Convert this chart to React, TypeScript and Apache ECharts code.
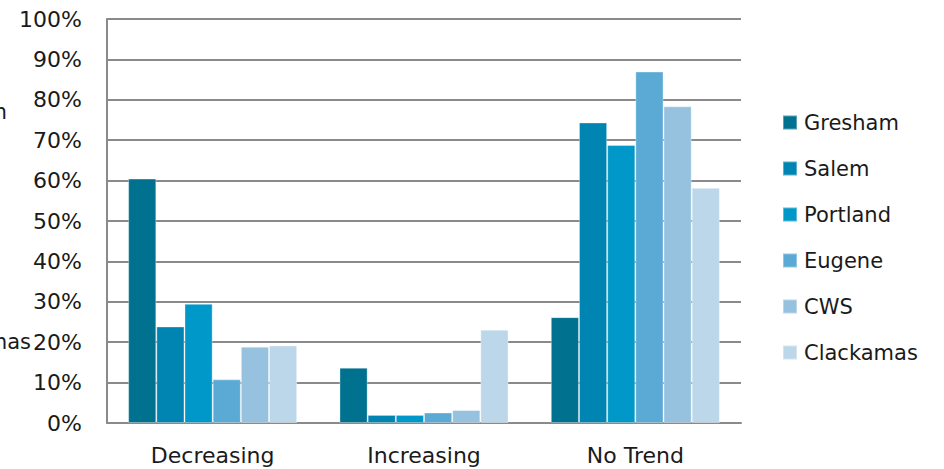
import React, { useEffect, useRef } from "react";
import * as echarts from "echarts";

const categories = ["Decreasing", "Increasing", "No Trend"];
const seriesNames = ["Gresham", "Salem", "Portland", "Eugene", "CWS", "Clackamas"];
const gresham = [60.5, 13.7, 26.2];
const salem = [23.9, 2.0, 74.4];
const portland = [29.5, 2.0, 68.8];
const eugene = [10.8, 2.6, 87.0];
const cws = [18.9, 3.2, 78.4];
const clackamas = [19.2, 23.1, 58.2];
const seriesValues = [gresham, salem, portland, eugene, cws, clackamas];
const colors = ["#00718F", "#0085B2", "#0098C8", "#5AAAD5", "#96C2E0", "#BCD7EA"];

const FONT = "DejaVu Sans";

// Left-edge labels that run past the chart's left border
const edgeLabels = [
  { text: "Gresham", x: 7, y: 112 },
  { text: "Clackamas", x: 31, y: 342 },
];

export default function App() {
  const ref = useRef<HTMLDivElement>(null);

  useEffect(() => {
    if (!ref.current) return;
    const chart = echarts.init(ref.current, null, { renderer: "svg" });
    chart.setOption({
      animation: false,
      backgroundColor: "#ffffff",
      textStyle: { fontFamily: FONT, color: "#1a1a1a" },
      grid: { left: 107, right: 203, top: 19, bottom: 46, containLabel: false },
      legend: {
        orient: "vertical",
        left: 782,
        top: 112,
        padding: 0,
        itemWidth: 14,
        itemHeight: 14,
        itemGap: 25,
        icon: "rect",
        textStyle: { fontFamily: FONT, fontSize: 21, lineHeight: 21, color: "#1a1a1a", padding: [0, 0, 0, 2] },
        data: seriesNames,
      },
      graphic: edgeLabels.map((l) => ({
        type: "text",
        x: l.x,
        y: l.y,
        style: {
          text: l.text,
          font: `21px '${FONT}'`,
          fill: "#1a1a1a",
          align: "right",
          verticalAlign: "middle",
        },
      })),
      xAxis: {
        type: "category",
        data: categories,
        axisLine: { show: true, lineStyle: { color: "#8a8a8a", width: 2 } },
        axisTick: { show: false },
        axisLabel: { fontFamily: FONT, fontSize: 22, color: "#1a1a1a", margin: 21 },
      },
      yAxis: {
        type: "value",
        min: 0,
        max: 100,
        interval: 10,
        axisLine: { show: true, lineStyle: { color: "#8a8a8a", width: 2 } },
        axisTick: { show: false },
        splitLine: { show: true, lineStyle: { color: "#8a8a8a", width: 2 } },
        axisLabel: {
          fontFamily: FONT,
          fontSize: 22,
          color: "#1a1a1a",
          margin: 25,
          formatter: (v: number) => `${v}%`,
        },
      },
      series: seriesNames.map((name, i) => ({
        name,
        type: "bar",
        data: seriesValues[i],
        barGap: "0%",
        barCategoryGap: "20%",
        itemStyle: {
          color: colors[i],
          borderColor: "rgba(255,255,255,0.35)",
          borderWidth: 1,
        },
      })),
    });
    return () => chart.dispose();
  }, []);

  return <div ref={ref} style={{ width: 944, height: 469, position: "absolute", left: 0, top: 0 }} />;
}
